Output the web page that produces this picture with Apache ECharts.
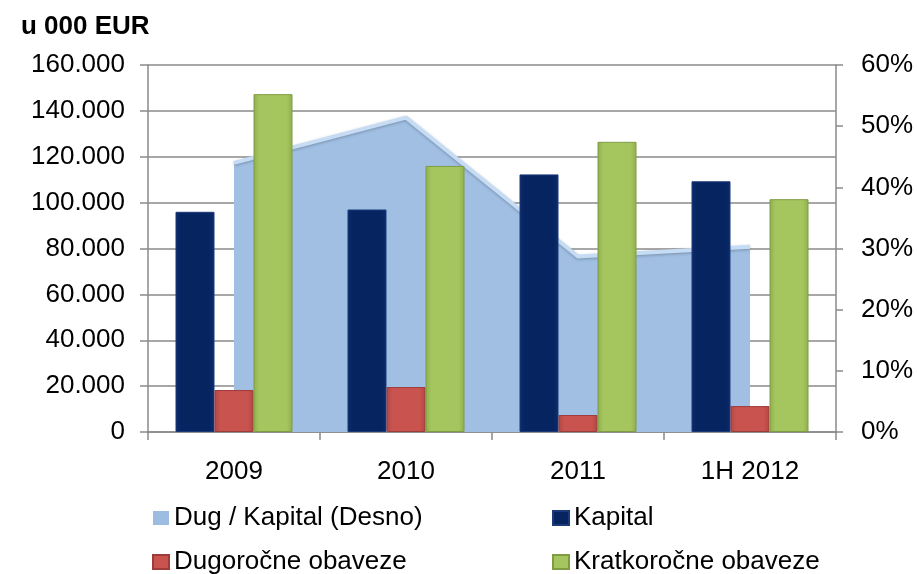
<!DOCTYPE html>
<html>
<head>
<meta charset="utf-8">
<script src="https://cdn.jsdelivr.net/npm/echarts@6/dist/echarts.min.js"></script>
<style>
    html, body { margin: 0; padding: 0; background: #fff; }
    #chart { width: 917px; height: 574px; }
</style>
</head>
<body>
<div id="chart"></div>
<script>
const categories = ['2009', '2010', '2011', '1H 2012']
const dugKapital = [44.0, 51.4, 28.7, 30.3]          // % (right axis)
const kapital = [96000, 97000, 112300, 109300]
const dugorocne = [18300, 19600, 7400, 11300]
const kratkorocne = [147300, 116000, 126500, 101500]

const font = 'Liberation Sans, Arial, sans-serif'
const gray = '#8a8a8a'

function dots(v) {
    return String(v).replace(/\B(?=(\d{3})+(?!\d))/g, '.')
}

function barFill(edge, mid) {
    return new echarts.graphic.LinearGradient(0, 0, 1, 0, [
        {offset: 0, color: edge},
        {offset: 0.15, color: mid},
        {offset: 0.85, color: mid},
        {offset: 1, color: edge}
    ])
}

// two vertical legend columns, like the original layout
function legendCol(left, names) {
    return {
        orient: 'vertical',
        left: left,
        top: 505,
        height: 120,
        padding: 0,
        itemWidth: 16,
        itemHeight: 14,
        itemGap: 18,
        icon: 'rect',
        textStyle: { fontSize: 26, color: '#000', lineHeight: 26 },
        data: names
    }
}

let chart = echarts.init(document.getElementById('chart'))
chart.setOption({
    animation: false,
    textStyle: { fontFamily: font },
    title: {
        text: 'u 000 EUR',
        left: 16,
        top: 9,
        textStyle: { fontFamily: font, fontSize: 26, fontWeight: 'bold', color: '#000' }
    },
    grid: { left: 148, right: 81, top: 65, bottom: 142 },
    legend: [
        legendCol(152, ['Dug / Kapital (Desno)', 'Dugoročne obaveze']),
        legendCol(552, ['Kapital', 'Kratkoročne obaveze'])
    ],
    xAxis: {
        type: 'category',
        data: categories,
        axisLine: { lineStyle: { color: gray, width: 1.5 } },
        axisTick: { show: true, length: 8, lineStyle: { color: gray, width: 1.5 } },
        axisLabel: { fontSize: 26, color: '#000', margin: 27 }
    },
    yAxis: [
        {
            type: 'value',
            min: 0,
            max: 160000,
            interval: 20000,
            axisLine: { show: true, lineStyle: { color: gray, width: 1.5 } },
            axisTick: { show: true, length: 8, lineStyle: { color: gray, width: 1.5 } },
            splitLine: { lineStyle: { color: gray, width: 1.5 } },
            axisLabel: { fontSize: 26, color: '#000', margin: 23, formatter: dots }
        },
        {
            type: 'value',
            min: 0,
            max: 60,
            interval: 10,
            position: 'right',
            axisLine: { show: true, lineStyle: { color: gray, width: 1.5 } },
            axisTick: { show: true, length: 7, lineStyle: { color: gray, width: 1.5 } },
            splitLine: { show: false },
            axisLabel: { fontSize: 26, color: '#000', margin: 25, formatter: '{value}%' }
        }
    ],
    series: [
        {
            name: 'Dug / Kapital (Desno)',
            type: 'line',
            yAxisIndex: 1,
            data: dugKapital,
            symbol: 'none',
            z: 1,
            itemStyle: { color: '#9dbce2' },
            lineStyle: { color: '#c6dcf5', width: 4, shadowColor: 'rgba(0,0,0,0.25)', shadowBlur: 3, shadowOffsetY: 1 },
            areaStyle: { color: '#a0bfe3', opacity: 1 }
        },
        {
            name: 'Kapital',
            type: 'bar',
            data: kapital,
            barWidth: 39,
            barGap: '0%',
            z: 3,
            itemStyle: { color: barFill('#0b2a6b', '#06245f'), borderColor: '#1c3a7a', borderWidth: 1 }
        },
        {
            name: 'Dugoročne obaveze',
            type: 'bar',
            data: dugorocne,
            barWidth: 39,
            barGap: '0%',
            z: 3,
            itemStyle: { color: barFill('#b24744', '#c9534f'), borderColor: '#9e3c39', borderWidth: 1 }
        },
        {
            name: 'Kratkoročne obaveze',
            type: 'bar',
            data: kratkorocne,
            barWidth: 39,
            barGap: '0%',
            z: 3,
            itemStyle: { color: barFill('#8faf4d', '#a5c55f'), borderColor: '#7f9c43', borderWidth: 1 }
        }
    ]
})
</script>
</body>
</html>
